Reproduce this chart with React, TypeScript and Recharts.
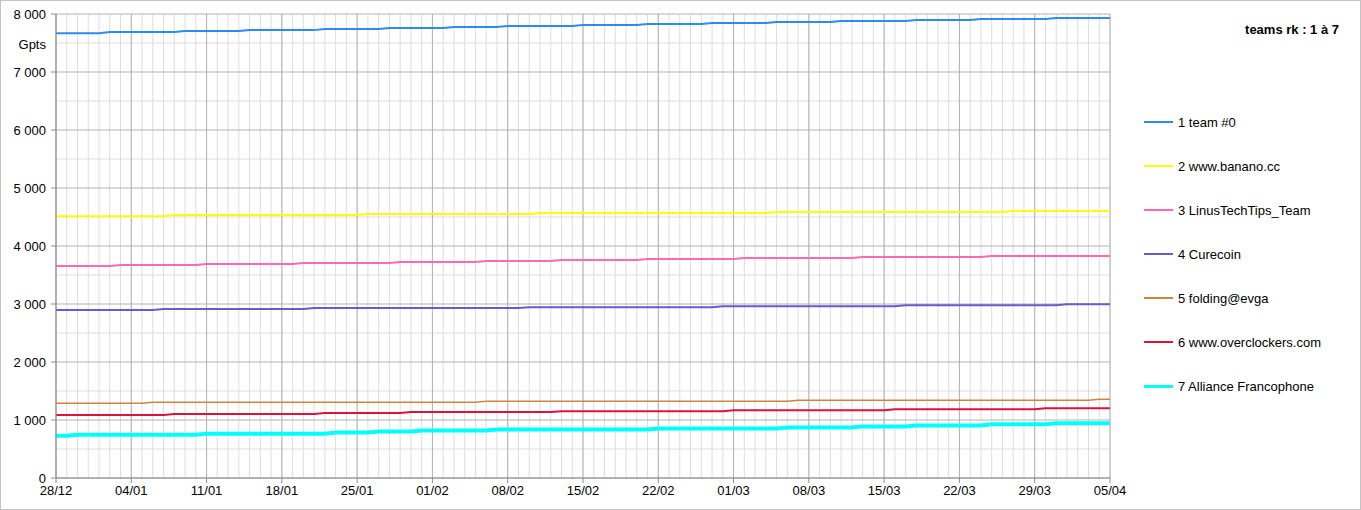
import { LineChart, Line, XAxis, YAxis, CartesianGrid, Legend } from "recharts";

// daily totals (Gpts), 28/12 -> 05/04, one row per week
const team0 = [
  7670, 7670, 7670, 7670, 7670, 7688, 7688,
  7688, 7688, 7688, 7688, 7688, 7705, 7705,
  7705, 7705, 7705, 7705, 7722, 7722, 7722,
  7722, 7722, 7722, 7722, 7740, 7740, 7740,
  7740, 7740, 7740, 7757, 7757, 7757, 7757,
  7757, 7757, 7775, 7775, 7775, 7775, 7775,
  7792, 7792, 7792, 7792, 7792, 7792, 7792,
  7810, 7810, 7810, 7810, 7810, 7810, 7827,
  7827, 7827, 7827, 7827, 7827, 7845, 7845,
  7845, 7845, 7845, 7845, 7862, 7862, 7862,
  7862, 7862, 7862, 7880, 7880, 7880, 7880,
  7880, 7880, 7880, 7897, 7897, 7897, 7897,
  7897, 7897, 7915, 7915, 7915, 7915, 7915,
  7915, 7915, 7932, 7932, 7932, 7932, 7932,
  7932,
];

const banano = [
  4515, 4515, 4515, 4515, 4515, 4515, 4515,
  4515, 4515, 4515, 4515, 4533, 4533, 4533,
  4533, 4533, 4533, 4533, 4533, 4533, 4533,
  4533, 4533, 4533, 4533, 4533, 4533, 4533,
  4533, 4550, 4550, 4550, 4550, 4550, 4550,
  4550, 4550, 4550, 4550, 4550, 4550, 4550,
  4550, 4550, 4550, 4568, 4568, 4568, 4568,
  4568, 4568, 4568, 4568, 4568, 4568, 4568,
  4568, 4568, 4568, 4568, 4568, 4568, 4568,
  4568, 4568, 4568, 4568, 4585, 4585, 4585,
  4585, 4585, 4585, 4585, 4585, 4585, 4585,
  4585, 4585, 4585, 4585, 4585, 4585, 4585,
  4585, 4585, 4585, 4585, 4585, 4603, 4603,
  4603, 4603, 4603, 4603, 4603, 4603, 4603,
  4603,
];

const linus = [
  3655, 3655, 3655, 3655, 3655, 3655, 3672,
  3672, 3672, 3672, 3672, 3672, 3672, 3672,
  3690, 3690, 3690, 3690, 3690, 3690, 3690,
  3690, 3690, 3707, 3707, 3707, 3707, 3707,
  3707, 3707, 3707, 3707, 3724, 3724, 3724,
  3724, 3724, 3724, 3724, 3724, 3741, 3741,
  3741, 3741, 3741, 3741, 3741, 3759, 3759,
  3759, 3759, 3759, 3759, 3759, 3759, 3776,
  3776, 3776, 3776, 3776, 3776, 3776, 3776,
  3776, 3793, 3793, 3793, 3793, 3793, 3793,
  3793, 3793, 3793, 3793, 3793, 3811, 3811,
  3811, 3811, 3811, 3811, 3811, 3811, 3811,
  3811, 3811, 3811, 3828, 3828, 3828, 3828,
  3828, 3828, 3828, 3828, 3828, 3828, 3828,
  3828,
];

const curecoin = [
  2897, 2897, 2897, 2897, 2897, 2897, 2897,
  2897, 2897, 2897, 2914, 2914, 2914, 2914,
  2914, 2914, 2914, 2914, 2914, 2914, 2914,
  2914, 2914, 2914, 2930, 2930, 2930, 2930,
  2930, 2930, 2930, 2930, 2930, 2930, 2930,
  2930, 2930, 2930, 2930, 2930, 2930, 2930,
  2930, 2930, 2946, 2946, 2946, 2946, 2946,
  2946, 2946, 2946, 2946, 2946, 2946, 2946,
  2946, 2946, 2946, 2946, 2946, 2946, 2963,
  2963, 2963, 2963, 2963, 2963, 2963, 2963,
  2963, 2963, 2963, 2963, 2963, 2963, 2963,
  2963, 2963, 2979, 2979, 2979, 2979, 2979,
  2979, 2979, 2979, 2979, 2979, 2979, 2979,
  2979, 2979, 2979, 2995, 2995, 2995, 2995,
  2995,
];

const evga = [
  1288, 1288, 1288, 1288, 1288, 1288, 1288,
  1288, 1288, 1305, 1305, 1305, 1305, 1305,
  1305, 1305, 1305, 1305, 1305, 1305, 1305,
  1305, 1305, 1305, 1305, 1305, 1305, 1305,
  1305, 1305, 1305, 1305, 1305, 1305, 1305,
  1305, 1305, 1305, 1305, 1305, 1322, 1322,
  1322, 1322, 1322, 1322, 1322, 1322, 1322,
  1322, 1322, 1322, 1322, 1322, 1322, 1322,
  1322, 1322, 1322, 1322, 1322, 1322, 1322,
  1322, 1322, 1322, 1322, 1322, 1322, 1340,
  1340, 1340, 1340, 1340, 1340, 1340, 1340,
  1340, 1340, 1340, 1340, 1340, 1340, 1340,
  1340, 1340, 1340, 1340, 1340, 1340, 1340,
  1340, 1340, 1340, 1340, 1340, 1340, 1357,
  1357,
];

const overclockers = [
  1086, 1086, 1086, 1086, 1086, 1086, 1086,
  1086, 1086, 1086, 1086, 1103, 1103, 1103,
  1103, 1103, 1103, 1103, 1103, 1103, 1103,
  1103, 1103, 1103, 1103, 1119, 1119, 1119,
  1119, 1119, 1119, 1119, 1119, 1136, 1136,
  1136, 1136, 1136, 1136, 1136, 1136, 1136,
  1136, 1136, 1136, 1136, 1136, 1152, 1152,
  1152, 1152, 1152, 1152, 1152, 1152, 1152,
  1152, 1152, 1152, 1152, 1152, 1152, 1152,
  1169, 1169, 1169, 1169, 1169, 1169, 1169,
  1169, 1169, 1169, 1169, 1169, 1169, 1169,
  1169, 1186, 1186, 1186, 1186, 1186, 1186,
  1186, 1186, 1186, 1186, 1186, 1186, 1186,
  1186, 1202, 1202, 1202, 1202, 1202, 1202,
  1202,
];

const alliance = [
  729, 729, 747, 747, 747, 747, 747,
  747, 747, 747, 747, 747, 747, 747,
  765, 765, 765, 765, 765, 765, 765,
  765, 765, 765, 765, 765, 783, 783,
  783, 783, 801, 801, 801, 801, 818,
  818, 818, 818, 818, 818, 818, 836,
  836, 836, 836, 836, 836, 836, 836,
  836, 836, 836, 836, 836, 836, 836,
  854, 854, 854, 854, 854, 854, 854,
  854, 854, 854, 854, 854, 872, 872,
  872, 872, 872, 872, 872, 890, 890,
  890, 890, 890, 907, 907, 907, 907,
  907, 907, 907, 925, 925, 925, 925,
  925, 925, 943, 943, 943, 943, 943,
  943,
];

const weekTicks = [0, 7, 14, 21, 28, 35, 42, 49, 56, 63, 70, 77, 84, 91, 98];
const weekLabels = [
  "28/12", "04/01", "11/01", "18/01", "25/01", "01/02", "08/02", "15/02",
  "22/02", "01/03", "08/03", "15/03", "22/03", "29/03", "05/04",
];
const yTicks = [0, 1000, 2000, 3000, 4000, 5000, 6000, 7000, 8000];
const yMinor = [500, 1500, 2500, 3500, 4500, 5500, 6500, 7500];

const series = [
  { key: "t1", name: "1 team #0", color: "#2a8cf0", width: 2, values: team0 },
  { key: "t2", name: "2 www.banano.cc", color: "#ffff00", width: 2, values: banano },
  { key: "t3", name: "3 LinusTechTips_Team", color: "#ff69b4", width: 2, values: linus },
  { key: "t4", name: "4 Curecoin", color: "#6a5acd", width: 2, values: curecoin },
  { key: "t5", name: "5 folding@evga", color: "#cd853f", width: 1.6, values: evga },
  { key: "t6", name: "6 www.overclockers.com", color: "#dc143c", width: 2, values: overclockers },
  { key: "t7", name: "7 Alliance Francophone", color: "#00ffff", width: 4, values: alliance },
];

const data = team0.map((_, i) => {
  const row: Record<string, number> = { day: i };
  series.forEach((s) => (row[s.key] = s.values[i]));
  return row;
});

const dayValues = data.map((d) => d.day);

const fmt = (v: number) => (v >= 1000 ? `${Math.floor(v / 1000)} ${String(v % 1000).padStart(3, "0")}` : String(v));

function LegendBox() {
  return (
    <div style={{ position: "relative", width: 251, height: 500, fontFamily: "'Liberation Sans', Arial, sans-serif", fontSize: 13, color: "#000" }}>
      <div style={{ position: "absolute", right: 22, top: 22, fontWeight: "bold", lineHeight: "16px" }}>
        teams rk : 1 à 7
      </div>
      {series.map((s, i) => (
        <div
          key={s.key}
          style={{ position: "absolute", left: 34, top: 114 + i * 44, height: 16, display: "flex", alignItems: "center", whiteSpace: "nowrap" }}
        >
          <span style={{ display: "inline-block", width: 29, height: Math.min(s.width, 3), background: s.color, marginRight: 5 }} />
          <span>{s.name}</span>
        </div>
      ))}
    </div>
  );
}

export default function App() {
  const tickStyle = { fill: "#000", fontSize: 13, fontFamily: "'Liberation Sans', Arial, sans-serif" };
  return (
    <div
      style={{
        position: "absolute",
        left: 0,
        top: 0,
        width: 1361,
        height: 510,
        background: "#fff",
        border: "1px solid #c4c4c4",
        boxSizing: "border-box",
      }}
    >
      <LineChart
        width={1361}
        height={510}
        data={data}
        margin={{ top: 14, right: 0, bottom: 0, left: -1 }}
        style={{ position: "absolute", left: -1, top: -1 }}
      >
        <CartesianGrid stroke="#dddddd" verticalValues={dayValues} horizontalValues={yMinor} />
        <CartesianGrid stroke="#b3b3b3" verticalValues={weekTicks} horizontalValues={yTicks} />
        <XAxis
          dataKey="day"
          type="number"
          domain={[0, 98]}
          ticks={weekTicks}
          interval={0}
          height={32}
          tickSize={5}
          tickMargin={3}
          stroke="#8c8c8c"
          tick={tickStyle}
          tickFormatter={(v: number) => weekLabels[weekTicks.indexOf(v)]}
        />
        <YAxis
          type="number"
          domain={[0, 8000]}
          ticks={yTicks}
          interval={0}
          width={57}
          tickSize={5}
          tickMargin={5}
          stroke="#8c8c8c"
          tick={tickStyle}
          tickFormatter={fmt}
          label={{ value: "Gpts", position: "insideTopRight", offset: 10, dy: 16, dx: 0, style: tickStyle }}
        />
        <Legend
          layout="vertical"
          align="right"
          verticalAlign="top"
          wrapperStyle={{ top: 0, right: 0, width: 251 }}
          content={() => <LegendBox />}
        />
        {series.map((s) => (
          <Line
            key={s.key}
            dataKey={s.key}
            name={s.name}
            stroke={s.color}
            strokeWidth={s.width}
            dot={false}
            activeDot={false}
            type="linear"
            isAnimationActive={false}
          />
        ))}
      </LineChart>
    </div>
  );
}
